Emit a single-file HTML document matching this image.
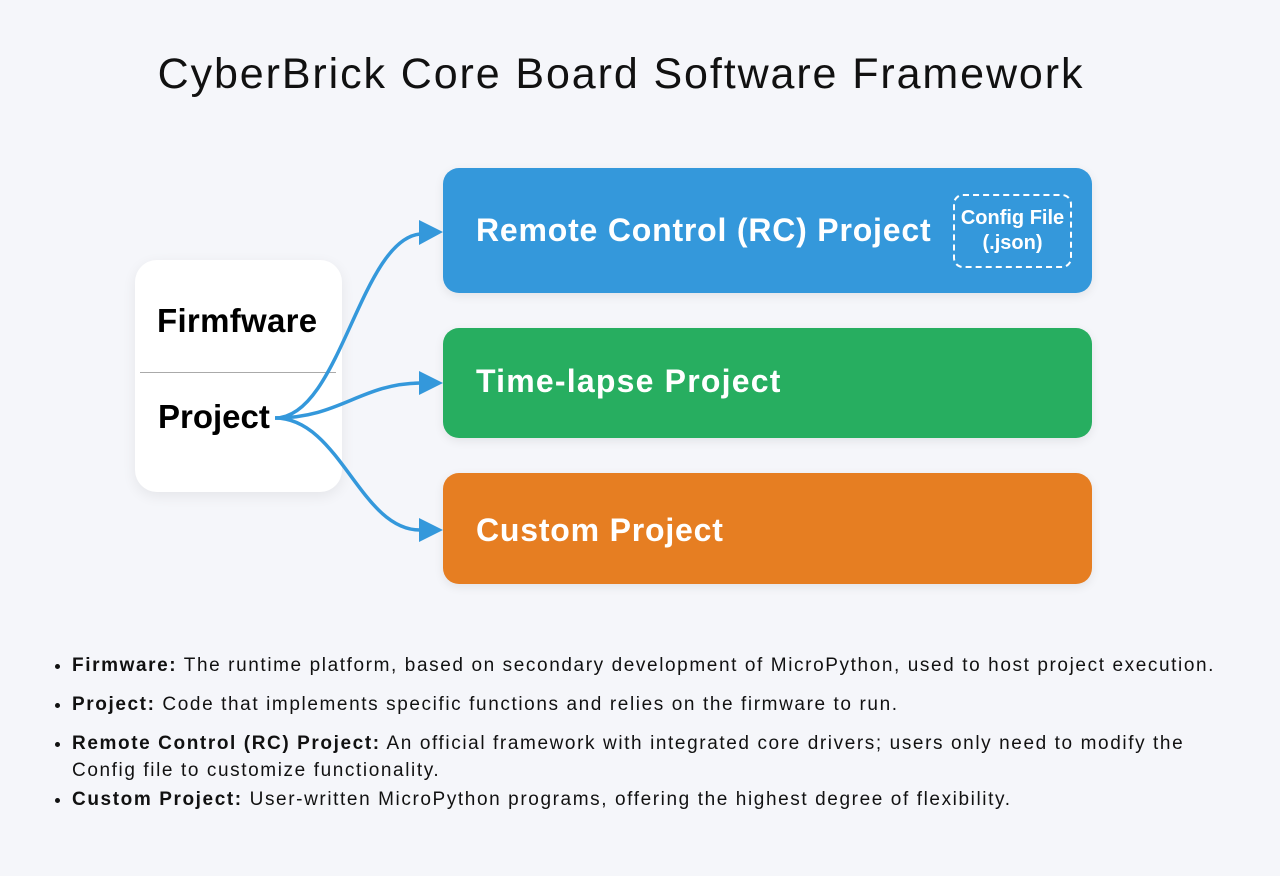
<!DOCTYPE html>
<html><head><meta charset="utf-8"><style>
body{margin:0;width:1280px;height:876px;background:#f5f6fa;font-family:"Liberation Sans",sans-serif;position:relative;overflow:hidden}
.t{position:absolute;left:0;width:1242px;text-align:center;top:50px;font-size:43px;letter-spacing:1.9px;color:#111;white-space:nowrap}
.box{position:absolute;border-radius:16px;color:#fff;font-weight:bold;font-size:32px;letter-spacing:0.8px;box-shadow:0 3px 10px rgba(0,0,0,.08)}
.box span{position:absolute;left:33px}
.w{position:absolute;left:135px;top:260px;width:207px;height:232px;background:#fff;border-radius:22px;box-shadow:0 4px 14px rgba(0,0,0,.07)}
ul{position:absolute;left:50px;top:652px;margin:0;padding-left:22px;font-size:19px;letter-spacing:1.6px;color:#111;width:1220px;white-space:nowrap}
li{margin-bottom:12px;line-height:27px}
</style></head><body>
<div class="t">CyberBrick Core Board Software Framework</div>
<div class="w">
<div style="position:absolute;left:22px;top:42px;font-size:33px;font-weight:bold;letter-spacing:0.3px">Firmfware</div>
<div style="position:absolute;left:5px;right:6px;top:112px;border-top:1.5px solid #aaa"></div>
<div style="position:absolute;left:23px;top:138px;font-size:33px;font-weight:bold">Project</div>
</div>
<div class="box" style="left:443px;top:168px;width:649px;height:125px;background:#3498db"><span style="top:44px">Remote Control (RC) Project</span>
<div style="position:absolute;left:510px;top:26px;width:119px;height:74px;border:2.5px dashed #fff;border-radius:10px;font-size:20px;letter-spacing:0;text-align:center;line-height:25px;padding-top:10px;box-sizing:border-box">Config File<br>(.json)</div></div>
<div class="box" style="left:443px;top:328px;width:649px;height:110px;background:#27ae60"><span style="top:35px;letter-spacing:1.2px">Time-lapse Project</span></div>
<div class="box" style="left:443px;top:473px;width:649px;height:111px;background:#e67e22"><span style="top:39px">Custom Project</span></div>
<svg width="1280" height="876" style="position:absolute;left:0;top:0" fill="none">
<g stroke="#3498db" stroke-width="3.5">
<path d="M275 418 C340 418 360 240 420 234"/>
<path d="M275 418 C340 418 360 384 420 383"/>
<path d="M275 418 C340 418 360 530 420 530"/>
</g>
<g fill="#3498db">
<polygon points="419,220 443,232 419,245"/>
<polygon points="419,371 443,383 419,395"/>
<polygon points="419,518 443,530 419,542"/>
</g></svg>
<ul>
<li><b>Firmware:</b> The runtime platform, based on secondary development of MicroPython, used to host project execution.</li>
<li><b>Project:</b> Code that implements specific functions and relies on the firmware to run.</li>
<li style="margin-bottom:2px"><b>Remote Control (RC) Project:</b> An official framework with integrated core drivers; users only need to modify the<br>Config file to customize functionality.</li>
<li><b>Custom Project:</b> User-written MicroPython programs, offering the highest degree of flexibility.</li>
</ul>
</body></html>
